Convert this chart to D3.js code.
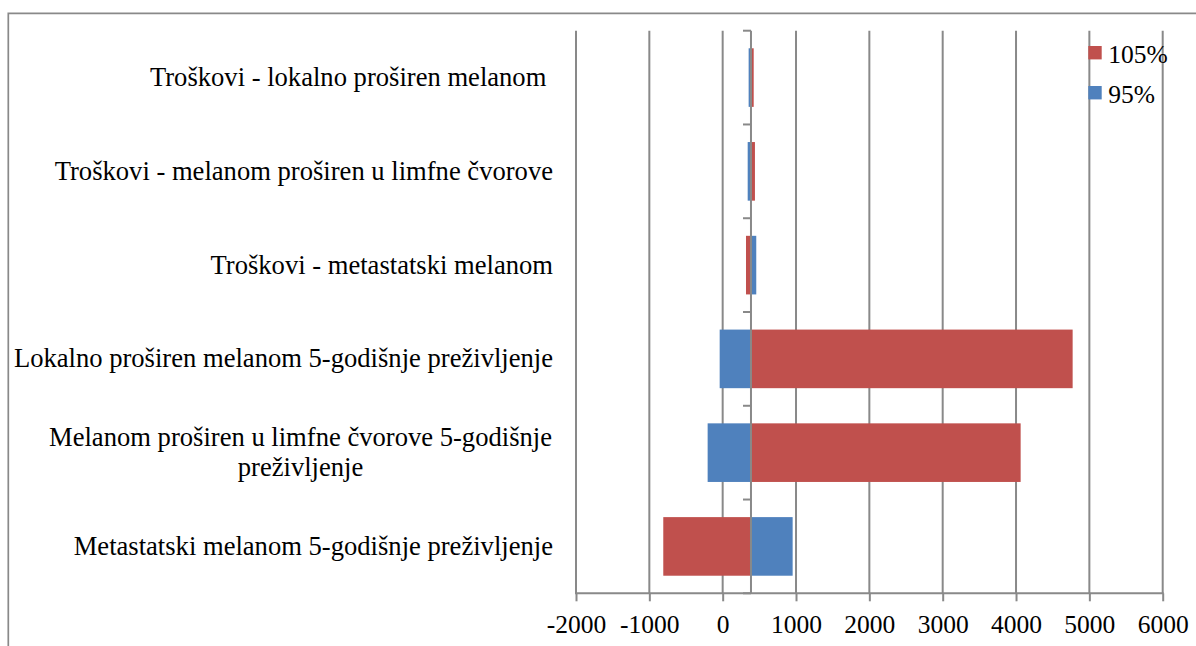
<!DOCTYPE html>
<html>
<head>
<meta charset="utf-8">
<script src="https://cdnjs.cloudflare.com/ajax/libs/d3/7.8.5/d3.min.js"></script>
<style>
  body { margin: 0; background: #fff; }
  svg text { font-family: "Liberation Serif", "Times New Roman", serif; fill: #000; }
</style>
</head>
<body>
<div id="graph"></div>
<script>
window.onload = start;

// categories, bottom to top (Excel order)
var categories = [
    ["Metastatski melanom 5-godišnje preživljenje"],
    ["Melanom proširen u limfne čvorove 5-godišnje", "preživljenje"],
    ["Lokalno proširen melanom 5-godišnje preživljenje"],
    ["Troškovi - metastatski melanom"],
    ["Troškovi - melanom proširen u limfne čvorove"],
    ["Troškovi - lokalno proširen melanom\u00a0"]
];
var baseValue = 386;
var seriesNames = ["105%", "95%"];
var high105 = [-810, 4063, 4772, 318, 440, 423];
var low95 = [954, -205, -41, 458, 341, 354];
var xTicks = [-2000, -1000, 0, 1000, 2000, 3000, 4000, 5000, 6000];

var colors = {"105%": "#C0504D", "95%": "#4F81BD"};
var gridColor = "#898989";

var svg, xScale, yScale;
var width = 1196, height = 646;
var plot = {left: 576, right: 1162.7, top: 30.7, bottom: 593.3};

function start() {
    svg = d3.select("#graph")
        .append("svg")
        .attr("width", width)
        .attr("height", height);

    // outer frame, cut off by the picture edge
    svg.append("path")
        .attr("d", "M8.3," + height + "V13.3H" + width)
        .attr("fill", "none")
        .attr("stroke", gridColor)
        .attr("stroke-width", 1.7);

    xScale = d3.scaleLinear().domain([-2000, 6000]).range([plot.left, plot.right]);
    yScale = d3.scaleBand()
        .domain(d3.range(categories.length))
        .range([plot.bottom, plot.top])
        .paddingInner(0.375)
        .paddingOuter(0.1875);

    // vertical gridlines
    svg.append("g").selectAll("line")
        .data(xTicks)
        .enter()
        .append("line")
        .attr("x1", function(d) { return xScale(d); })
        .attr("x2", function(d) { return xScale(d); })
        .attr("y1", plot.top)
        .attr("y2", plot.bottom)
        .attr("stroke", gridColor)
        .attr("stroke-width", 2);

    // bars: each series runs from the base case to its value
    var rows = [];
    for (var i = 0; i < categories.length; i++) {
        rows.push({i: i, s: "105%", v: high105[i]});
        rows.push({i: i, s: "95%", v: low95[i]});
    }
    svg.append("g").selectAll("rect")
        .data(rows)
        .enter()
        .append("rect")
        .attr("x", function(d) { return Math.min(xScale(d.v), xScale(baseValue)); })
        .attr("width", function(d) { return Math.abs(xScale(d.v) - xScale(baseValue)); })
        .attr("y", function(d) { return yScale(d.i); })
        .attr("height", yScale.bandwidth())
        .attr("fill", function(d) { return colors[d.s]; });

    // x axis at the bottom
    var xAxis = d3.axisBottom(xScale)
        .tickValues(xTicks)
        .tickSize(8)
        .tickPadding(14)
        .tickFormat(d3.format("d"));
    var xContainer = svg.append("g")
        .attr("transform", "translate(0," + plot.bottom + ")")
        .attr("font-family", "Liberation Serif")
        .call(xAxis);
    xContainer.select(".domain").remove();
    xContainer.selectAll("line").attr("stroke", gridColor).attr("stroke-width", 2);
    xContainer.selectAll("text")
        .attr("font-size", "25.5px")
        .text(function(d) { return d < 0 ? "-" + Math.abs(d) : d; });
    xContainer.append("line")
        .attr("x1", plot.left - 1).attr("x2", plot.right + 1)
        .attr("stroke", gridColor).attr("stroke-width", 2);

    // vertical axis crossing at the base case, with ticks between categories
    var bx = xScale(baseValue);
    var step = (plot.bottom - plot.top) / categories.length;
    var yAxisG = svg.append("g");
    yAxisG.append("line")
        .attr("x1", bx).attr("x2", bx)
        .attr("y1", plot.top).attr("y2", plot.bottom)
        .attr("stroke", gridColor).attr("stroke-width", 2);
    yAxisG.selectAll(".tick")
        .data(d3.range(categories.length + 1))
        .enter()
        .append("line")
        .attr("x1", bx - 8).attr("x2", bx)
        .attr("y1", function(d) { return plot.top + d * step; })
        .attr("y2", function(d) { return plot.top + d * step; })
        .attr("stroke", gridColor).attr("stroke-width", 2);

    // category labels
    var labelCenter = 300.5;
    var labels = svg.append("g").selectAll("text")
        .data(categories)
        .enter()
        .append("text")
        .attr("font-family", "Liberation Serif")
        .attr("font-size", "26.6px")
        .attr("text-anchor", "middle")
        .style("white-space", "pre")
        .attr("transform", function(d, i) {
            var cy = yScale(i) + yScale.bandwidth() / 2;
            return "translate(" + labelCenter + "," + cy + ")";
        });
    labels.each(function(lines) {
        var t = d3.select(this);
        var lh = 30;
        lines.forEach(function(line, k) {
            t.append("tspan")
                .attr("x", lines.length === 1 ? 553 - labelCenter : 0)
                .attr("text-anchor", lines.length === 1 ? "end" : "middle")
                .attr("y", (k - (lines.length - 1) / 2) * lh + 8.5)
                .text(line);
        });
    });

    // legend
    var legend = svg.append("g").selectAll("g")
        .data(seriesNames)
        .enter()
        .append("g")
        .attr("transform", function(d, i) { return "translate(1088.3," + (46 + i * 40) + ")"; });
    legend.append("rect")
        .attr("width", 13.4)
        .attr("height", 13.4)
        .attr("fill", function(d) { return colors[d]; });
    legend.append("text")
        .attr("x", 20)
        .attr("y", 16.5)
        .attr("font-size", "25.5px")
        .text(function(d) { return d; });
}
</script>
</body>
</html>
